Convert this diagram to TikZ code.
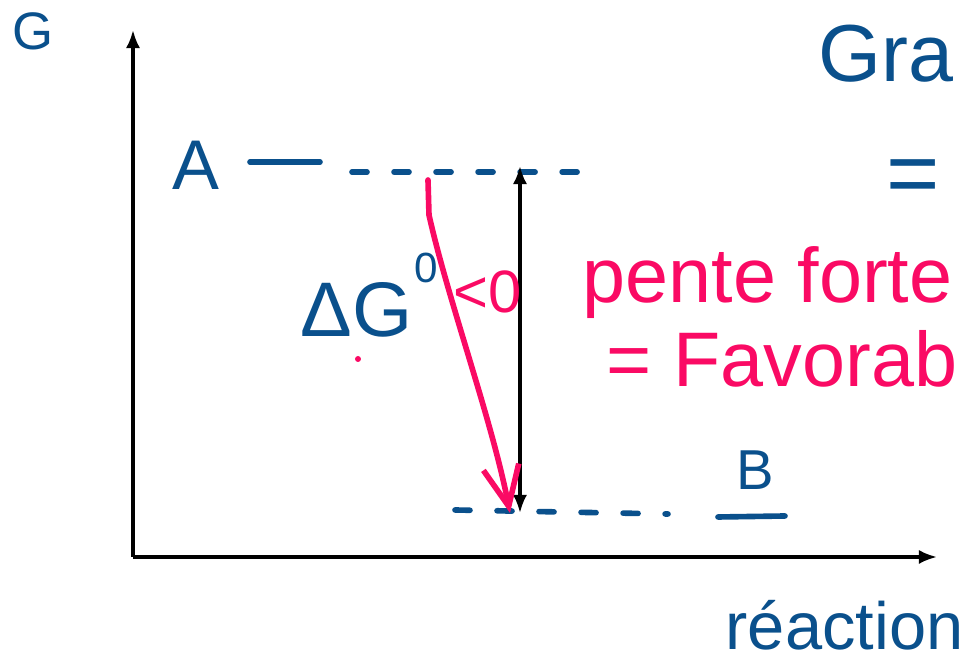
\documentclass[tikz,border=0pt]{standalone}
\usepackage{fontspec}
\setmainfont{Liberation Sans}
\usetikzlibrary{arrows.meta,positioning}
\definecolor{inkblue}{RGB}{10,80,140}
\definecolor{inkpink}{RGB}{250,10,100}

\begin{document}
\begin{tikzpicture}[x=0.01cm,y=-0.01cm,
  ink/.style={text=inkblue,inner sep=0pt},
  pinkink/.style={text=inkpink,inner sep=0pt},
  stroke/.style={draw=inkblue,line width=1.6pt,line cap=round},
  dashstroke/.style={stroke,dash pattern=on 1.5mm off 2.7mm},
  axis/.style={-{Latex[length=1.8mm,width=1.4mm]},line width=0.9pt},
  gap/.style={{Latex[length=1.8mm,width=1.4mm]}-{Latex[length=1.8mm,width=1.4mm]},line width=0.9pt},
  fall/.style={draw=inkpink,line width=1.6pt,line cap=round,
               -{Straight Barb[length=4mm,width=3.6mm]}}
]
\useasboundingbox (0,0) rectangle (959,661);
% axes
\coordinate (origin) at (133,557);
\coordinate (gtop)   at (133,30);
\coordinate (xend)   at (937,557);
\draw[axis] (origin) -- (gtop);
\draw[axis] (origin) -- (xend);
\node[ink,anchor=base west,font=\fontsize{15}{18}\selectfont] (glabel) at (12,50) {G};
\node[ink,anchor=base west,font=\fontsize{19}{22}\selectfont] (xlabel) at (725,650) {réaction};
% levels A and B
\node[ink,anchor=base west,font=\fontsize{20}{24}\selectfont] (A) at (172,190) {A};
\coordinate (a1) at (250,162);
\coordinate (a2) at (320,162);
\coordinate (a3) at (352,172);
\coordinate (a4) at (595,172);
\draw[stroke] (a1) -- (a2);
\draw[dashstroke] (a3) -- (a4);
\node[ink,anchor=base,font=\fontsize{16}{20}\selectfont] (B) at (755,490) {B};
\coordinate (b1) at (455,510);
\coordinate (b2) at (668,514);
\coordinate (bu1) at (718,517);
\coordinate (bu2) at (785,516);
\draw[dashstroke] (b1) -- (b2);
\draw[stroke] (bu1) -- (bu2);
% gap between the levels
\coordinate (gtopA) at (520,166);
\coordinate (gbotB) at (520,513);
\draw[gap] (gbotB) -- (gtopA);
\node[ink,anchor=base west,font=\fontsize{22}{26}\selectfont] (dG) at (300,337) {ΔG};
\node[ink,anchor=base west,font=\fontsize{12}{14}\selectfont] (dGsup) at (414,283) {0};
% pink notes
\coordinate (f0) at (428,180);
\coordinate (f1) at (429,215);
\coordinate (f2) at (510,513);
\draw[fall] (f0) -- (f1) .. controls (448,300) and (492,420) .. (f2);
\node[pinkink,anchor=base west,font=\fontsize{17}{20}\selectfont] (neg) at (453,313) {<0};
\fill[inkpink] (358,359) circle (0.3mm);
\node[pinkink,anchor=base west,font=\fontsize{22}{26}\selectfont] (pente) at (582,303) {pente forte};
\node[pinkink,anchor=base west,font=\fontsize{22}{26}\selectfont] (favo) at (606,387) {= Favorab};
% title
\node[ink,anchor=base west,font=\fontsize{23}{27}\selectfont] (title) at (818,82) {Gra};
\node[ink,font=\fontsize{26}{30}\selectfont] (eq) at (913,182) {=};
\end{tikzpicture}
\end{document}
